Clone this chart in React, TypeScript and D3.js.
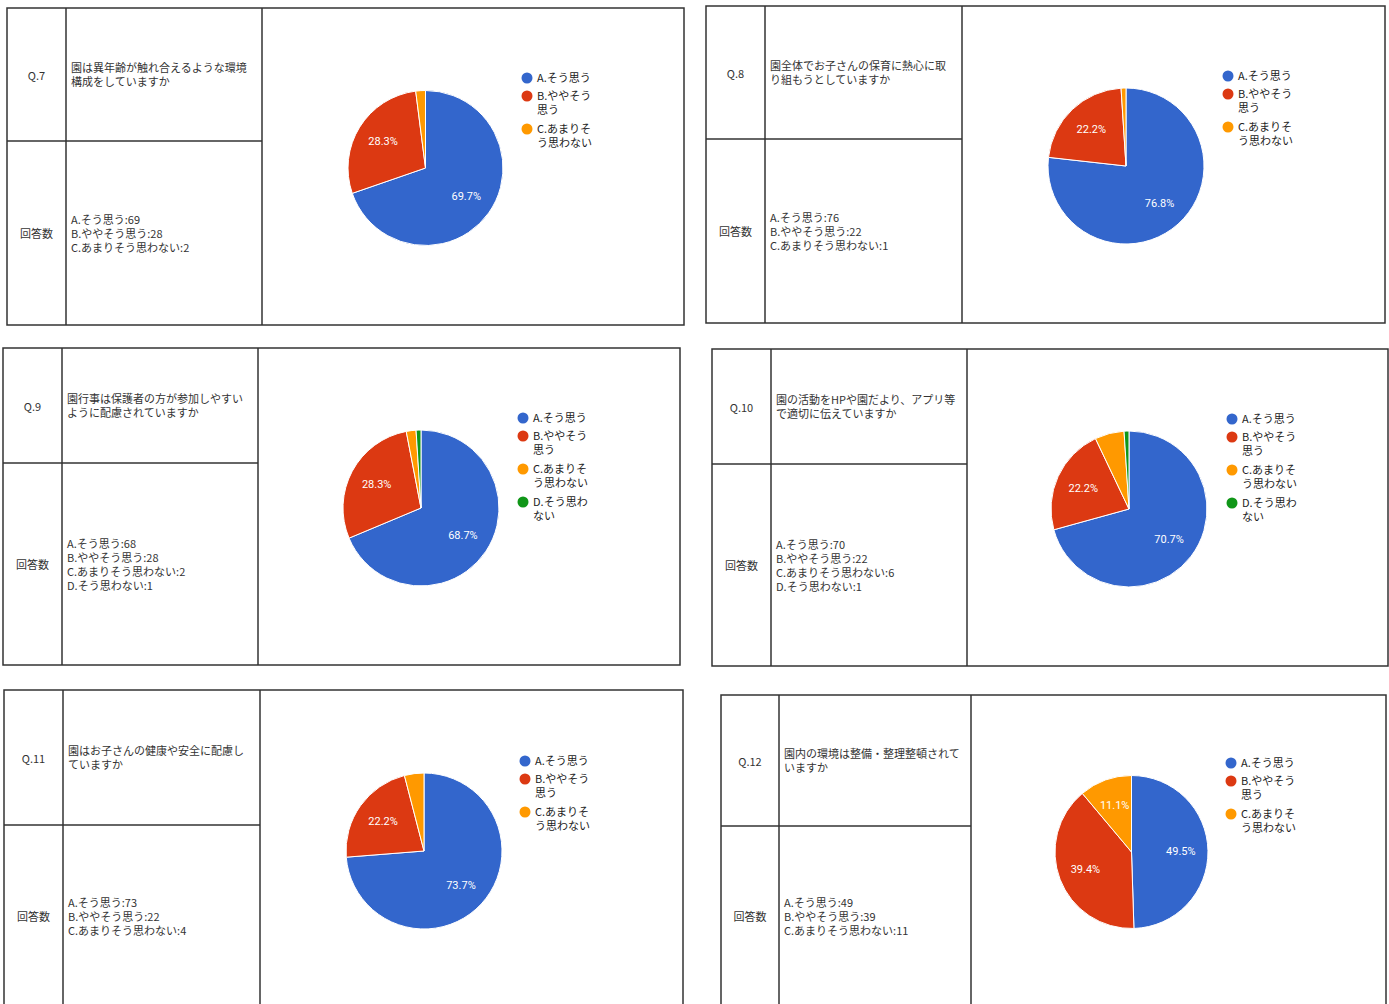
import React from "react";
import * as d3 from "d3";

// ---- data ----
const questionIds = ["Q.7", "Q.8", "Q.9", "Q.10", "Q.11", "Q.12"];
const questionLines = [
  ["園は異年齢が触れ合えるような環境", "構成をしていますか"],
  ["園全体でお子さんの保育に熱心に取", "り組もうとしていますか"],
  ["園行事は保護者の方が参加しやすい", "ように配慮されていますか"],
  ["園の活動をHPや園だより、アプリ等", "で適切に伝えていますか"],
  ["園はお子さんの健康や安全に配慮し", "ていますか"],
  ["園内の環境は整備・整理整頓されて", "いますか"],
];
const optionLabels = ["A.そう思う", "B.ややそう思う", "C.あまりそう思わない", "D.そう思わない"];
const legendLines = [["A.そう思う"], ["B.ややそう", "思う"], ["C.あまりそ", "う思わない"], ["D.そう思わ", "ない"]];
const answerHeader = "回答数";
const countsQ7 = [69, 28, 2];
const countsQ8 = [76, 22, 1];
const countsQ9 = [68, 28, 2, 1];
const countsQ10 = [70, 22, 6, 1];
const countsQ11 = [73, 22, 4];
const countsQ12 = [49, 39, 11];
const allCounts = [countsQ7, countsQ8, countsQ9, countsQ10, countsQ11, countsQ12];
const sliceColors = ["#3366CC", "#DC3912", "#FF9900", "#109618"];

// ---- layout (positions of each panel) ----
const layouts = [
  { l: 7, t: 8, r: 684, b: 325, c1: 66, c2: 262, row: 141, ay: 234, cx: 425.5, cy: 168, R: 77.5, lx: 527, ly: 78 },
  { l: 706, t: 6, r: 1385, b: 323, c1: 765, c2: 962, row: 139, ay: 232, cx: 1126, cy: 166, R: 78, lx: 1228, ly: 76 },
  { l: 3, t: 348, r: 680, b: 665, c1: 62, c2: 258, row: 463, ay: 564.5, cx: 421, cy: 508, R: 78, lx: 523, ly: 418 },
  { l: 712, t: 349, r: 1388, b: 666, c1: 771, c2: 967, row: 464, ay: 566, cx: 1129, cy: 509, R: 78, lx: 1232, ly: 419 },
  { l: 4, t: 690, r: 683, b: 1040, c1: 63, c2: 260, row: 825, ay: 917, cx: 424, cy: 851, R: 78, lx: 525, ly: 761 },
  { l: 721, t: 695, r: 1386, b: 1040, c1: 779, c2: 971, row: 826, ay: 917, cx: 1131.5, cy: 852, R: 76.5, lx: 1231, ly: 763 },
];

const FONT = "'Noto Sans CJK JP', 'Noto Sans', sans-serif";
const LINE = "#333";
const DY = 1.5; // baseline nudge for CJK font

function Panel({ idx }: { idx: number }) {
  const L = layouts[idx];
  const counts = allCounts[idx];
  const total = d3.sum(counts);
  const pie = d3.pie<number>().sort(null).value((d) => d);
  const arcs = pie(counts);
  const arcGen = d3.arc<d3.PieArcDatum<number>>().innerRadius(0).outerRadius(L.R);
  const labelArc = d3.arc<d3.PieArcDatum<number>>().innerRadius(L.R * 0.645).outerRadius(L.R * 0.645);
  const fmt = d3.format(".1f");

  const qy = (L.t + L.row) / 2 + 1.5 + DY;
  const aMidX = (L.l + L.c1) / 2;
  const textX = L.c1 + 5;

  let ly = L.ly;
  const legendItems = counts.map((_, i) => {
    const y = ly;
    ly += legendLines[i].length === 1 ? 18 : 33;
    return { i, y };
  });

  const countStartY = L.ay + DY - ((counts.length - 1) * 14) / 2;

  return (
    <g>
      <rect x={L.l} y={L.t} width={L.r - L.l} height={L.b - L.t} fill="#fff" stroke={LINE} strokeWidth={1.5} />
      <line x1={L.c1} x2={L.c1} y1={L.t} y2={L.b} stroke={LINE} strokeWidth={1.5} />
      <line x1={L.c2} x2={L.c2} y1={L.t} y2={L.b} stroke={LINE} strokeWidth={1.5} />
      <line x1={L.l} x2={L.c2} y1={L.row} y2={L.row} stroke={LINE} strokeWidth={1.5} />
      <text x={aMidX} y={qy} textAnchor="middle" dominantBaseline="middle" fontSize={11} fill="#333" fontFamily={FONT}>
        {questionIds[idx]}
      </text>
      {questionLines[idx].map((s, k) => (
        <text key={k} x={textX} y={qy - 8 + k * 14} dominantBaseline="middle" fontSize={11} fill="#333" fontFamily={FONT}>
          {s}
        </text>
      ))}
      <text x={aMidX} y={L.ay + DY} textAnchor="middle" dominantBaseline="middle" fontSize={11} fill="#333" fontFamily={FONT}>
        {answerHeader}
      </text>
      {counts.map((c, k) => (
        <text key={k} x={textX} y={countStartY + k * 14} dominantBaseline="middle" fontSize={11} fill="#333" fontFamily={FONT}>
          {`${optionLabels[k]}:${c}`}
        </text>
      ))}
      <g transform={`translate(${L.cx},${L.cy})`}>
        {arcs.map((a, k) => (
          <path key={k} d={arcGen(a) || ""} fill={sliceColors[k]} stroke="#fff" strokeWidth={1} />
        ))}
        {arcs.map((a, k) => {
          const pct = (a.value / total) * 100;
          if (pct < 10) return null;
          const [x, y] = labelArc.centroid(a);
          return (
            <text key={k} x={x} y={y + 0.5} textAnchor="middle" dominantBaseline="middle" fontSize={11} fill="#fff" fontFamily="Roboto, 'Noto Sans', sans-serif">
              {`${fmt(pct)}%`}
            </text>
          );
        })}
      </g>
      {legendItems.map(({ i, y }) => (
        <g key={i}>
          <circle cx={L.lx} cy={y} r={5.5} fill={sliceColors[i]} />
          {legendLines[i].map((s, k) => (
            <text key={k} x={L.lx + 10} y={y + DY + k * 14} dominantBaseline="middle" fontSize={11} fill="#222" fontFamily={FONT}>
              {s}
            </text>
          ))}
        </g>
      ))}
    </g>
  );
}

export default function App() {
  return (
    <svg width={1389} height={1004} style={{ position: "absolute", left: 0, top: 0, background: "#fff" }}>
      <rect width={1389} height={1004} fill="#fff" />
      {layouts.map((_, i) => (
        <Panel key={i} idx={i} />
      ))}
    </svg>
  );
}
